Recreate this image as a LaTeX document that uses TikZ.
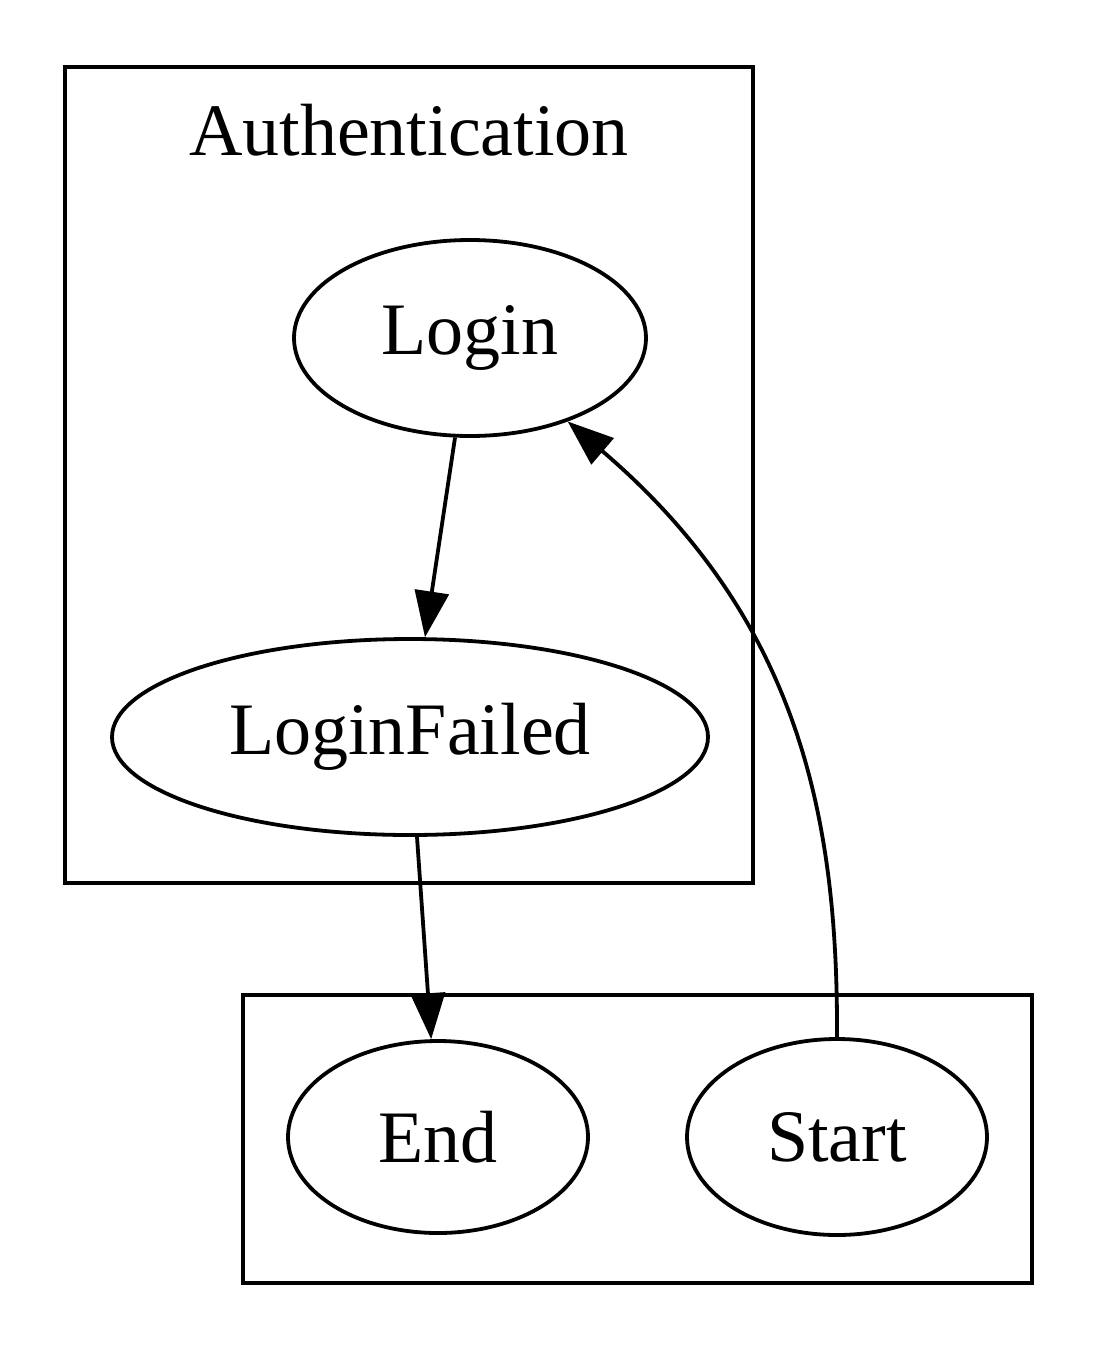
\documentclass[tikz,border=0pt]{standalone}
\usepackage{fontspec}
\setmainfont{Liberation Serif}
\usetikzlibrary{arrows.meta,shapes.geometric}
\tikzset{
 state/.style={draw,ellipse,line width=1.9pt,inner sep=0pt,font=\fontsize{37}{40}\selectfont},
 cluster/.style={draw,line width=1.9pt},
 edge/.style={line width=1.9pt,-{Triangle[length=23pt,width=17pt]}}
}
\begin{document}
\begin{tikzpicture}[x=0.5pt,y=-0.5pt]
 \useasboundingbox(0,0)rectangle(1100,1350);
 % clusters
 \draw[cluster](65,67)rectangle(753,883);
 \node[font=\fontsize{37}{40}\selectfont](authlabel)at(409,130){Authentication};
 \draw[cluster](243,995)rectangle(1032,1283);
 % states
 \node[state,minimum width=176pt,minimum height=98pt](login)at(470,338){Login};
 \node[state,minimum width=298pt,minimum height=98pt](failed)at(410,737){LoginFailed};
 \node[state,minimum width=150pt,minimum height=96pt](end)at(438,1137){End};
 \node[state,minimum width=150pt,minimum height=98pt](start)at(837,1137){Start};
 % transitions
 \draw[edge](login)--(failed);
 \draw[edge](failed)--(end);
 \draw[edge](start.north) .. controls (838,820) and (800,620) .. (login);
\end{tikzpicture}
\end{document}
